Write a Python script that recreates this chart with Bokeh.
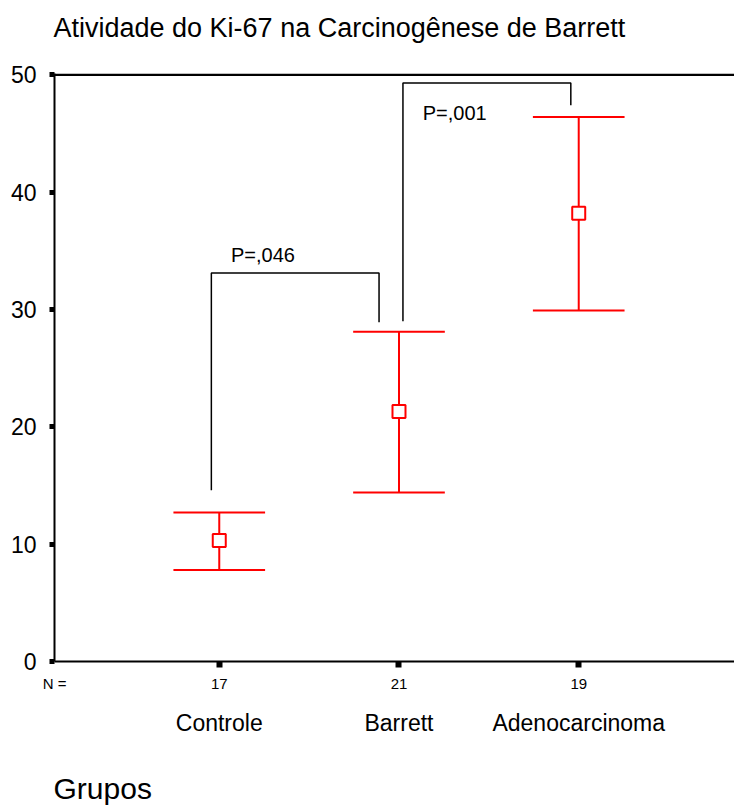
from bokeh.plotting import figure
from bokeh.models import (Range1d, FixedTicker, LinearAxis, Span, Title,
                          ColumnDataSource)
from bokeh.core.properties import value
from bokeh.embed import file_html
from bokeh.resources import INLINE

# ---- data ----
groups = ["Controle", "Barrett", "Adenocarcinoma"]
n_counts = ["17", "21", "19"]
n_prefix = "N ="
group_pos = [1, 2, 3]
means = [10.3, 21.3, 38.2]
upper = [12.7, 28.1, 46.4]
lower = [7.8, 14.4, 29.9]
y_ticks = [0, 10, 20, 30, 40, 50]

# significance brackets (x, y paths) and labels
bracket1_x = [0.956, 0.956, 1.889, 1.889]
bracket1_y = [14.6, 33.1, 33.1, 28.9]
bracket2_x = [2.022, 2.022, 2.956, 2.956]
bracket2_y = [29.0, 49.3, 49.3, 47.4]
p_labels = ["P=,046", "P=,001"]
p_x = [1.065, 2.132]
p_y = [34.6, 46.7]

title_text = "Atividade do Ki-67 na Carcinogênese de Barrett"
xlabel_text = "Grupos"

FONT = "Liberation Sans"
RED = "#FF0000"
cap_half = 0.255
X_START, X_END = 0.0833, 3.8667

p = figure(width=734, height=810, output_backend="svg", toolbar_location=None,
           x_range=Range1d(X_START, X_END), y_range=Range1d(0, 50.1),
           min_border_left=54, min_border_right=0, min_border_top=73,
           min_border_bottom=149, x_axis_location=None, y_axis_location=None,
           title=None)
p.outline_line_color = None
p.grid.visible = False
p.background_fill_color = "white"
p.border_fill_color = "white"


def spacer_axis(gap):
    ax = LinearAxis(ticker=FixedTicker(ticks=[group_pos[0]]))
    ax.major_label_overrides = {group_pos[0]: " "}
    ax.major_label_text_font_size = "1px"
    ax.major_label_standoff = gap
    ax.axis_line_color = None
    ax.major_tick_line_color = None
    ax.minor_tick_line_color = None
    ax.major_tick_out = 0
    ax.major_tick_in = 0
    return ax


# y axis
yax = LinearAxis(ticker=FixedTicker(ticks=y_ticks))
yax.axis_line_width = 2
yax.axis_line_color = "black"
yax.major_tick_in = 0
yax.major_tick_out = 5
yax.major_tick_line_width = 5
yax.minor_tick_line_color = None
yax.major_label_text_font = FONT
yax.major_label_text_font_size = "23px"
yax.major_label_text_color = "black"
yax.major_label_standoff = 13
p.add_layout(yax, "left")

# x axis: line + tick marks only
xax = LinearAxis(ticker=FixedTicker(ticks=group_pos))
xax.major_label_overrides = {g: "" for g in group_pos}
xax.major_label_text_font_size = "1px"
xax.major_label_standoff = 0
xax.axis_line_width = 2
xax.axis_line_color = "black"
xax.major_tick_in = 0
xax.major_tick_out = 6
xax.major_tick_line_width = 6
xax.minor_tick_line_color = None
p.add_layout(xax, "below")

# N counts row
n_ticks = [X_START + 0.001] + group_pos
nax = LinearAxis(ticker=FixedTicker(ticks=n_ticks))
nax.major_label_overrides = {t: s for t, s in zip(n_ticks, [n_prefix] + n_counts)}
nax.axis_line_color = None
nax.major_tick_line_color = None
nax.minor_tick_line_color = None
nax.major_tick_out = 0
nax.major_tick_in = 0
nax.major_label_text_font = FONT
nax.major_label_text_font_size = "15px"
nax.major_label_text_color = "black"
nax.major_label_standoff = 7
p.add_layout(nax, "below")

# category axis
cax = LinearAxis(ticker=FixedTicker(ticks=group_pos))
cax.major_label_overrides = {g: name for g, name in zip(group_pos, groups)}
cax.axis_line_color = None
cax.major_tick_line_color = None
cax.minor_tick_line_color = None
cax.major_tick_out = 0
cax.major_tick_in = 0
cax.major_label_text_font = FONT
cax.major_label_text_font_size = "23px"
cax.major_label_text_color = "black"
cax.major_label_standoff = 15
p.add_layout(cax, "below")

# spacers + titles
p.add_layout(spacer_axis(27), "above")
t_top = Title(text=title_text, align="left", offset=-1, standoff=0,
              text_font=FONT, text_font_size="27px", text_font_style="normal",
              text_color="black")
p.add_layout(t_top, "above")

p.add_layout(spacer_axis(27), "below")
t_bottom = Title(text=xlabel_text, align="left", offset=-1, standoff=0,
                 text_font=FONT, text_font_size="30px", text_font_style="normal",
                 text_color="black")
p.add_layout(t_bottom, "below")

# top frame line
p.add_layout(Span(location=50, dimension="width", line_color="black", line_width=2.5))

# error bars
src = ColumnDataSource(dict(
    x=group_pos, mean=means, up=upper, lo=lower,
    xl=[g - cap_half for g in group_pos], xr=[g + cap_half for g in group_pos]))
p.segment(x0="x", y0="lo", x1="x", y1="up", source=src, line_color=RED, line_width=2)
p.segment(x0="xl", y0="up", x1="xr", y1="up", source=src, line_color=RED, line_width=2)
p.segment(x0="xl", y0="lo", x1="xr", y1="lo", source=src, line_color=RED, line_width=2)
p.scatter(x="x", y="mean", source=src, marker="square", size=13,
          fill_color="white", line_color=RED, line_width=2)

# brackets
p.line(bracket1_x, bracket1_y, line_color="black", line_width=1.5)
p.line(bracket2_x, bracket2_y, line_color="black", line_width=1.5)
p.text(x=p_x, y=p_y, text=p_labels, text_font=value(FONT), text_font_size="20px",
       text_color="black", text_baseline="alphabetic", text_align="left")

open("out.html", "w").write(file_html(p, INLINE))
